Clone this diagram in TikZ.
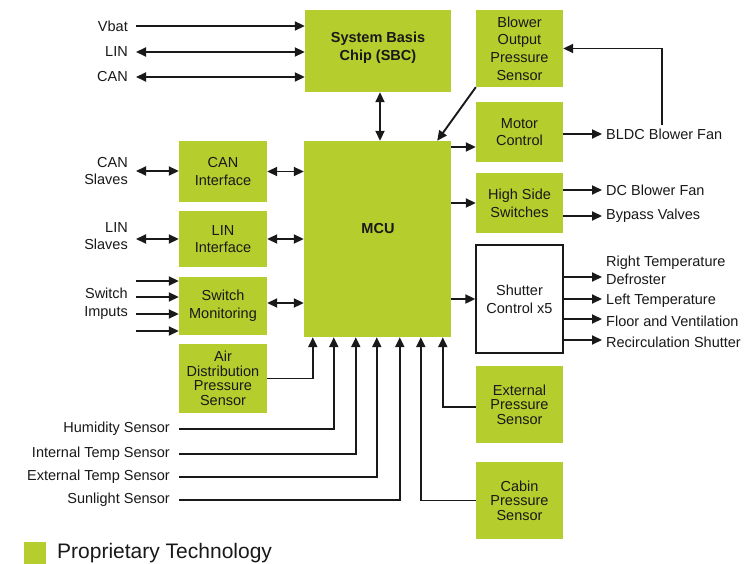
\documentclass[tikz,border=0pt]{standalone}
\usepackage{fontspec}
\setmainfont{Liberation Sans}
\usetikzlibrary{arrows.meta}
\definecolor{lime}{RGB}{181,205,45}
\definecolor{ink}{RGB}{25,25,25}

\begin{document}
\begin{tikzpicture}[x=1pt,y=-1pt,
  font=\fontsize{14.5}{17.7}\selectfont, text=ink,
  gbox/.style={fill=lime, inner sep=0pt, align=center},
  wbox/.style={fill=white, draw=ink, line width=1.3pt, inner sep=0pt, align=center},
  lbl/.style={inner sep=0pt, align=left, anchor=west},
  rlbl/.style={inner sep=0pt, align=right, anchor=east},
  tight/.style={font=\fontsize{14.5}{14.6}\selectfont},
  wire/.style={draw=ink, line width=1.9pt},
  arr/.style={wire, -{Triangle[length=10pt,width=9pt]}},
  darr/.style={wire, {Triangle[length=10pt,width=9pt]}-{Triangle[length=10pt,width=9pt]}},
]
\useasboundingbox[fill=white] (0,0) rectangle (754,564);

% ---- blocks ----
\node[gbox, minimum width=146pt, minimum height=82pt] (sbc) at (378,51) {};
\node[font=\fontsize{14.5}{17.7}\selectfont\bfseries, align=center, inner sep=0pt] (sbctxt) at (378,47.5) {System Basis\\Chip (SBC)};
\node[gbox, minimum width=147pt, minimum height=196pt] (mcu) at (377.5,239) {};
\node[font=\fontsize{14.5}{17.7}\selectfont\bfseries, inner sep=0pt] (mcutxt) at (378,229) {MCU};

\node[gbox, minimum width=87pt, minimum height=77pt] (bops) at (519.5,48.5) {Blower\\Output\\Pressure\\Sensor};
\node[gbox, minimum width=87pt, minimum height=60pt] (motor) at (519.5,132) {Motor\\Control};
\node[gbox, minimum width=87pt, minimum height=60pt] (hss) at (519.5,203) {High Side\\Switches};
\node[wbox, minimum width=87pt, minimum height=108pt] (shut) at (519.5,299) {Shutter\\Control x5};
\node[gbox, tight, minimum width=87pt, minimum height=77pt] (extp) at (519.5,404.5) {External\\Pressure\\Sensor};
\node[gbox, tight, minimum width=87pt, minimum height=77pt] (cabin) at (519.5,500.5) {Cabin\\Pressure\\Sensor};

\node[gbox, minimum width=88pt, minimum height=61pt] (canif) at (223,171.5) {CAN\\Interface};
\node[gbox, minimum width=88pt, minimum height=56pt] (linif) at (223,239) {LIN\\Interface};
\node[gbox, minimum width=88pt, minimum height=58pt] (swm) at (223,306) {Switch\\Monitoring};
\node[gbox, tight, minimum width=88pt, minimum height=69pt] (air) at (223,378.5) {Air\\Distribution\\Pressure\\Sensor};

% ---- SBC supply and buses ----
\node[rlbl] (vbat) at (128,26) {Vbat};
\node[rlbl] (lin) at (128,52) {LIN};
\node[rlbl] (can) at (128,77) {CAN};
\draw[arr]  ([xshift=8pt]vbat.east) -- (vbat.east -| sbc.west);
\draw[darr] ([xshift=8pt]lin.east) -- (lin.east -| sbc.west);
\draw[darr] ([xshift=8pt]can.east) -- (can.east -| sbc.west);
\draw[darr] ([xshift=2pt]sbc.south) -- ([xshift=2pt]sbc.south |- mcu.north);

% ---- left side interfaces ----
\node[rlbl] (cansl) at (128,171) {CAN\\Slaves};
\node[rlbl] (linsl) at (128,236) {LIN\\Slaves};
\node[rlbl] (swin) at (128,304) {Switch\\Imputs};
\draw[darr] ([xshift=8pt]cansl.east) -- (cansl.east -| canif.west);
\draw[darr] (canif.east) -- (canif.east -| mcu.west);
\draw[darr] ([xshift=8pt]linsl.east |- linif.west) -- (linif.west);
\draw[darr] (linif.east) -- (linif.east -| mcu.west);
\foreach \dy in {23,7,-10,-27}
  \draw[arr] ([xshift=8pt,yshift=\dy pt]swin.east) -- ([yshift=\dy pt]swin.east -| swm.west);
\draw[darr] ([yshift=3pt]swm.east) -- ([yshift=3pt]swm.east -| mcu.west);
\draw[arr] (air.east) -| ([xshift=9pt]mcu.south west);

% ---- sensors into the MCU ----
\node[rlbl] (humid) at (170,429) {Humidity Sensor};
\node[rlbl] (itemp) at (170,454) {Internal Temp Sensor};
\node[rlbl] (etemp) at (170,477) {External Temp Sensor};
\node[rlbl] (sun)   at (170,500) {Sunlight Sensor};
\draw[arr] ([xshift=9pt]humid.east) -| ([xshift=30pt]mcu.south west);
\draw[arr] ([xshift=9pt]itemp.east) -| ([xshift=52pt]mcu.south west);
\draw[arr] ([xshift=9pt]etemp.east) -| ([xshift=73pt]mcu.south west);
\draw[arr] ([xshift=9pt]sun.east)   -| ([xshift=96pt]mcu.south west);
\draw[arr] (cabin.west) -| ([xshift=117pt]mcu.south west);
\draw[arr] ([yshift=-2.5pt]extp.west) -| ([xshift=139pt]mcu.south west);
\draw[arr] (bops.south west) -- ([xshift=-14pt]mcu.north east);

% ---- right side outputs ----
\coordinate (mcmot) at ([yshift=-15pt]motor.west);
\draw[arr] (mcmot -| mcu.east) -- (mcmot);
\draw[arr] (hss.west -| mcu.east) -- (hss.west);
\draw[arr] (shut.west -| mcu.east) -- (shut.west);

\node[lbl] (bldc)   at (606,134) {BLDC Blower Fan};
\node[lbl] (dcfan)  at (606,190) {DC Blower Fan};
\node[lbl] (bypass) at (606,216) {Bypass Valves};
\draw[arr] (motor.east |- bldc.west) -- ([xshift=-4pt]bldc.west);
\draw[arr] ([xshift=-2pt,yshift=3pt]bldc.north) |- (bops.east);
\draw[arr] (hss.east |- dcfan.west) -- ([xshift=-4pt]dcfan.west);
\draw[arr] (hss.east |- bypass.west) -- ([xshift=-4pt]bypass.west);

\node[lbl] (rtd)    at (606,270) {Right Temperature\\Defroster};
\node[lbl] (leftt)  at (606,301) {Left Temperature};
\node[lbl] (floor)  at (606,321) {Floor and Ventilation};
\node[lbl] (recirc) at (606,342) {Recirculation Shutter};
\draw[arr] ([yshift=-7pt]shut.east |- rtd.west) -- ([xshift=-4pt,yshift=-7pt]rtd.west);
\draw[arr] ([yshift=2pt]shut.east |- leftt.west) -- ([xshift=-4pt,yshift=2pt]leftt.west);
\draw[arr] ([yshift=2pt]shut.east |- floor.west) -- ([xshift=-4pt,yshift=2pt]floor.west);
\draw[arr] ([yshift=2pt]shut.east |- recirc.west) -- ([xshift=-4pt,yshift=2pt]recirc.west);

% ---- legend ----
\node[fill=lime, minimum size=22pt, inner sep=0pt, anchor=north west] (swatch) at (24,542) {};
\node[anchor=west, inner sep=0pt, font=\fontsize{21}{24}\selectfont] (legend) at (57,553) {Proprietary Technology};
\end{tikzpicture}
\end{document}
